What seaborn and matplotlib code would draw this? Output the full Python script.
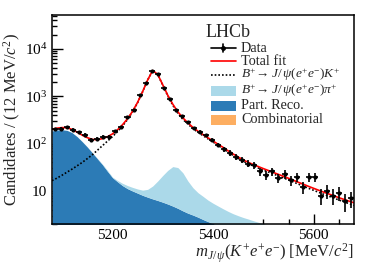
import numpy as np
import matplotlib
matplotlib.use("Agg")
import matplotlib.pyplot as plt
import seaborn as sns
from matplotlib.patches import Rectangle
from matplotlib.ticker import FixedLocator, FuncFormatter, LogLocator, NullFormatter

# binned data: 12 MeV bins from 5080 to 5680
bin_centers = np.arange(5086, 5680, 12)
counts = [204, 206, 224, 197, 173, 155, 121, 125, 138, 138,
          181, 224, 356, 520, 1040, 1900, 3450, 2970, 1530, 870,
          520, 376, 281, 214, 178, 150, 120, 95, 76, 64,
          52, 45, 38, 35, 26, 22, 26, 19, 23, 17,
          20, 12, 20, 20, 8, 10, 8, 9, 6, 7]

# fit components sampled every 10 MeV
m_grid = np.arange(5080, 5681, 10)
sig_k = [16.5, 18.7, 21.5, 25, 29, 34, 40, 48, 58, 72,
         90, 112, 140, 178, 235, 322, 468, 729, 1240, 2189,
         3487, 2884, 1729, 1023, 647, 439, 326, 259, 208, 174,
         147.5, 126, 108, 92, 79, 66.5, 57, 49, 42.5, 37.6,
         33.8, 30.5, 27.6, 25.1, 22.8, 20.7, 18.8, 17.1, 15.4, 13.9,
         12.6, 11.35, 10.3, 9.35, 8.5, 7.75, 7.1, 6.44, 5.9, 5.4, 4.95]
sig_pi = [0.1, 0.1, 0.15, 0.2, 0.25, 0.3, 0.4, 0.5, 0.6, 0.8,
          1.0, 1.2, 0.5, 1.0, 1.5, 1.8, 1.9, 2.0, 2.3, 3.4,
          5.9, 9.9, 15.4, 21.9, 27.9, 26.9, 20.4, 12.8, 8.6, 6.4,
          5.2, 4.15, 3.45, 2.95, 2.5, 2.15, 1.9, 1.7, 1.55, 1.45,
          1.33, 1.23, 1.15, 1.07, 1.0, 0.93, 0.87, 0.81, 0.76, 0.71,
          0.66, 0.62, 0.58, 0.54, 0.5, 0.47, 0.44, 0.41, 0.38, 0.36, 0.34]
part_reco = [185, 193, 196, 190, 170, 140, 110, 85, 64, 48,
             36, 26, 19, 15.5, 12.8, 11, 9.8, 8.8, 7.9, 7.2,
             6.6, 6.1, 5.6, 5.1, 4.6, 4.1, 3.6, 3.2, 2.9, 2.6,
             2.3, 2.05, 1.85, 1.65, 1.5, 1.35, 1.2, 1.1, 1.0, 0.9,
             0.82, 0.75, 0.68, 0.62, 0.56, 0.51, 0.46, 0.42, 0.38, 0.35,
             0.32, 0.29, 0.26, 0.24, 0.22, 0.2, 0.18, 0.16, 0.15, 0.14, 0.13]
combinatorial = [0.2] * 61

legend_labels = ["Data", "Total fit",
                 r"$B^{+}\!\rightarrow J/\,\psi(e^{+}e^{-})K^{+}$",
                 r"$B^{+}\!\rightarrow J/\,\psi(e^{+}e^{-})\pi^{+}$",
                 "Part. Reco.", "Combinatorial"]
colors = {"pi": "#abd9e9", "reco": "#2c7bb6", "comb": "#fdae61"}


def main():
    sns.set_theme(style="ticks")
    plt.rcParams["font.family"] = ["Liberation Serif", "DejaVu Serif"]
    plt.rcParams["mathtext.fontset"] = "custom"
    plt.rcParams["mathtext.rm"] = "Liberation Serif"
    plt.rcParams["mathtext.it"] = "Liberation Serif:italic"
    plt.rcParams["mathtext.bf"] = "Liberation Serif:bold"
    plt.rcParams["mathtext.fallback"] = "stix"

    comb = np.array(combinatorial)
    reco = np.array(part_reco)
    pi = np.array(sig_pi)
    sk = np.array(sig_k)
    total = comb + reco + pi + sk
    floor = 0.01
    dotted = (0, (1, 1.2))

    fig, ax = plt.subplots(figsize=(3.74, 2.68), dpi=100)
    fig.subplots_adjust(left=0.139, right=0.9465, bottom=0.164, top=0.944)

    ax.fill_between(m_grid, floor, comb, color=colors["comb"], lw=0)
    ax.fill_between(m_grid, comb, comb + reco, color=colors["reco"], lw=0)
    ax.fill_between(m_grid, comb + reco, comb + reco + pi, color=colors["pi"], lw=0)

    sns.lineplot(x=m_grid, y=sk, ax=ax, color="black", linestyle=dotted, lw=1.2)
    sns.lineplot(x=m_grid, y=total, ax=ax, color="red", lw=1.2)

    n = np.array(counts, dtype=float)
    ax.errorbar(bin_centers, n, yerr=np.sqrt(n), xerr=6, fmt="o", ms=2.0,
                color="black", elinewidth=1.2, capsize=0)

    ax.set_yscale("log")
    ax.set_xlim(5080, 5680)
    ax.set_ylim(2, 5.2e4)

    ax.xaxis.set_major_locator(FixedLocator([5200, 5400, 5600]))
    ax.xaxis.set_minor_locator(FixedLocator(np.arange(5100, 5680, 50)))
    ax.yaxis.set_major_locator(LogLocator(base=10))
    ax.yaxis.set_minor_locator(LogLocator(base=10, subs=np.arange(2, 10)))
    ax.yaxis.set_minor_formatter(NullFormatter())
    ax.yaxis.set_major_formatter(FuncFormatter(
        lambda v, p: "10" if abs(v - 10) < 1e-6 else r"$10^{%d}$" % round(np.log10(v))))

    ax.tick_params(which="both", direction="in", labelsize=11, width=1.0, colors="black")
    ax.tick_params(which="major", length=7)
    ax.tick_params(which="minor", length=3.5)
    ax.tick_params(axis="y", which="major", length=8)
    for s in ax.spines.values():
        s.set_linewidth(1.1)
        s.set_color("black")
        s.set_visible(True)

    ax.set_ylabel(r"Candidates / (12 MeV/$c^{2}$)", fontsize=12, labelpad=1)
    ax.set_xlabel(r"$m_{J/\,\psi}(K^{+}e^{+}e^{-})$ [MeV/$c^{2}$]", fontsize=12,
                  loc="right", labelpad=0)

    # legend drawn by hand so the rows sit evenly
    tr = ax.transAxes
    ax.text(0.507, 0.916, "LHCb", transform=tr, fontsize=13, ha="left", va="center")
    rows = [0.841, 0.778, 0.714, 0.637, 0.566, 0.498]
    x0, x1, xt = 0.5255, 0.609, 0.626
    box_h = 0.048
    for i, (y, label) in enumerate(zip(rows, legend_labels)):
        if i == 0:
            ax.plot([x0, x1], [y, y], transform=tr, color="black", lw=1.2)
            ax.plot([(x0 + x1) / 2], [y], transform=tr, marker="o", ms=2.5, color="black")
            ax.plot([(x0 + x1) / 2] * 2, [y - 0.02, y + 0.02], transform=tr,
                    color="black", lw=1.2)
        elif i == 1:
            ax.plot([x0, x1], [y, y], transform=tr, color="red", lw=1.2)
        elif i == 2:
            ax.plot([x0, x1], [y, y], transform=tr, color="black", lw=1.2, linestyle=dotted)
        else:
            c = [colors["pi"], colors["reco"], colors["comb"]][i - 3]
            ax.add_patch(Rectangle((x0, y - box_h / 2), x1 - x0, box_h, transform=tr,
                                   facecolor=c, edgecolor="none"))
        size = 9.6 if label.startswith("$") else 10.3
        ax.text(xt, y, label, transform=tr, fontsize=size, ha="left", va="center")

    fig.savefig("out.png", dpi=100)


if __name__ == "__main__":
    main()
